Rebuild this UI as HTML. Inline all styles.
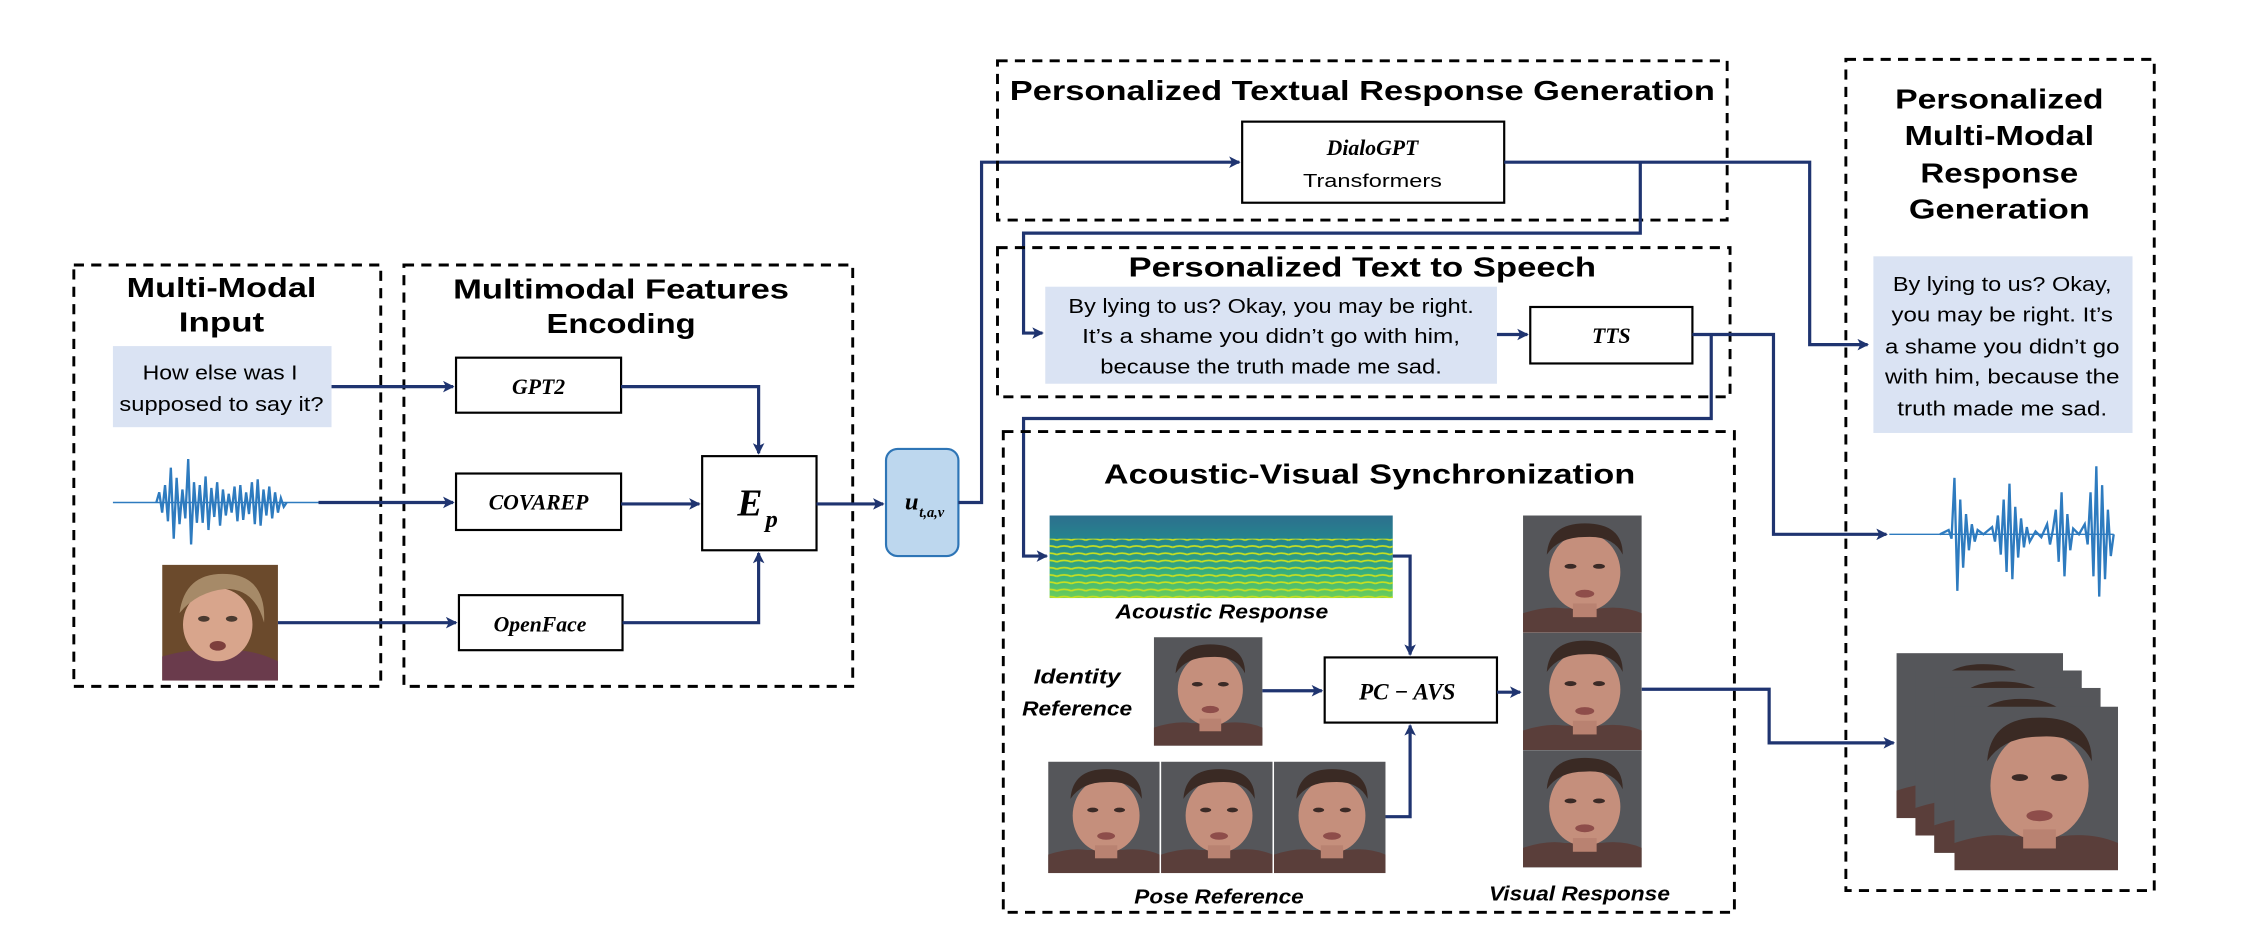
<!DOCTYPE html>
<html><head><meta charset="utf-8"><style>
html,body{margin:0;padding:0;background:#fff;}
svg{display:block;}
.t{font-family:"Liberation Sans",sans-serif;font-weight:bold;fill:#000;}
.b{font-family:"Liberation Sans",sans-serif;fill:#000;}
.i{font-family:"Liberation Serif",serif;font-style:italic;font-weight:bold;fill:#000;}
.dash{fill:none;stroke:#000;stroke-width:2;stroke-dasharray:7,5;}
.box{fill:#fff;stroke:#000;stroke-width:1.5;}
.ln{fill:none;stroke:#1f3470;stroke-width:2.2;}
.bub{fill:#dae3f3;}
</style></head><body>
<svg width="2244" height="934" viewBox="0 0 1550 645" preserveAspectRatio="none" xmlns="http://www.w3.org/2000/svg">
<defs>
<marker id="ar" markerWidth="8" markerHeight="8" refX="7" refY="4" orient="auto" markerUnits="userSpaceOnUse">
<path d="M0,0 L8,4 L0,8 L2,4 z" fill="#1f3470"/></marker>
<symbol id="face" viewBox="0 0 100 120" preserveAspectRatio="none">
<rect width="100" height="120" fill="#55565a"/>
<path d="M0,120 L0,100 Q20,92 35,95 L65,95 Q85,92 100,100 L100,120z" fill="#5a3e3a"/>
<ellipse cx="52" cy="58" rx="30" ry="40" fill="#c58f7c"/>
<rect x="42" y="90" width="20" height="14" fill="#b98271"/>
<path d="M20,40 Q22,8 52,8 Q84,8 84,40 Q76,20 52,22 Q30,22 20,40z" fill="#3a2a24"/>
<ellipse cx="40" cy="52" rx="5" ry="2.5" fill="#3b2a26"/>
<ellipse cx="64" cy="52" rx="5" ry="2.5" fill="#3b2a26"/>
<ellipse cx="52" cy="80" rx="8" ry="4" fill="#8e4d4a"/>
</symbol>
<symbol id="face2" viewBox="0 0 100 120" preserveAspectRatio="none">
<rect width="100" height="120" fill="#6b4a2c"/>
<path d="M0,120 L0,95 Q30,85 50,90 Q75,85 100,100 L100,120z" fill="#6a3b4c"/>
<ellipse cx="48" cy="62" rx="30" ry="38" fill="#d8a58c"/>
<path d="M15,50 Q20,5 60,10 Q90,15 88,60 Q80,25 55,25 Q30,28 15,50z" fill="#a68a68"/>
<ellipse cx="36" cy="56" rx="5" ry="3" fill="#4a3a30"/>
<ellipse cx="60" cy="56" rx="5" ry="3" fill="#4a3a30"/>
<ellipse cx="48" cy="84" rx="7" ry="5" fill="#7d3f3c"/>
</symbol>
<linearGradient id="sg" x1="0" y1="0" x2="0" y2="1">
<stop offset="0" stop-color="#2d6f8e"/><stop offset="0.35" stop-color="#23898e"/>
<stop offset="0.75" stop-color="#3bb57a"/><stop offset="1" stop-color="#6ece58"/></linearGradient>
<pattern id="sp" width="10" height="5" patternUnits="userSpaceOnUse">
<path d="M0,3 Q5,1 10,3" stroke="#c8e020" stroke-width="1.2" fill="none"/></pattern>
</defs>

<!-- Multi-modal input -->
<rect class="dash" x="51" y="183" width="212" height="291"/>
<text class="t" x="153" y="205" font-size="19" text-anchor="middle" textLength="131" lengthAdjust="spacingAndGlyphs">Multi-Modal</text>
<text class="t" x="153" y="229" font-size="19" text-anchor="middle" textLength="59" lengthAdjust="spacingAndGlyphs">Input</text>
<rect class="bub" x="78" y="239" width="151" height="56"/>
<text class="b" x="152" y="262" font-size="14" text-anchor="middle" textLength="107" lengthAdjust="spacingAndGlyphs">How else was I</text>
<text class="b" x="153" y="284" font-size="14" text-anchor="middle" textLength="141" lengthAdjust="spacingAndGlyphs">supposed to say it?</text>
<line x1="78" y1="347" x2="220" y2="347" stroke="#2e7bbf" stroke-width="1"/>
<polyline fill="none" stroke="#2e7bbf" stroke-width="1.6" points="108,347 110,340 112,354 114,335 116,360 118,323 120,372 122,330 124,362 126,338 128,358 130,317 132,376 134,333 136,361 138,335 140,361 142,329 144,366 146,337 148,357 150,333 152,363 154,338 156,356 158,341 160,354 162,336 164,360 166,335 168,359 170,340 172,355 174,333 176,362 178,331 180,363 182,338 184,356 186,336 188,358 190,340 192,354 194,344 196,350 198,347"/>
<use href="#face2" x="112" y="390" width="80" height="80"/>

<!-- Encoding -->
<rect class="dash" x="279" y="183" width="310" height="291"/>
<text class="t" x="429" y="206" font-size="19" text-anchor="middle" textLength="232" lengthAdjust="spacingAndGlyphs">Multimodal Features</text>
<text class="t" x="429" y="230" font-size="19" text-anchor="middle" textLength="103" lengthAdjust="spacingAndGlyphs">Encoding</text>
<rect class="box" x="315" y="247" width="114" height="38"/>
<text class="i" x="372" y="272" font-size="15" text-anchor="middle">GPT2</text>
<rect class="box" x="315" y="327" width="114" height="39"/>
<text class="i" x="372" y="352" font-size="15" text-anchor="middle">COVAREP</text>
<rect class="box" x="317" y="411" width="113" height="38"/>
<text class="i" x="373" y="436" font-size="15" text-anchor="middle">OpenFace</text>
<rect class="box" x="485" y="315" width="79" height="65"/>
<text class="i" x="518" y="356" font-size="26" text-anchor="middle">E</text>
<text class="i" x="533" y="364" font-size="17" text-anchor="middle">p</text>
<rect x="612" y="310" width="50" height="74" rx="8" fill="#bdd7ee" stroke="#2e75b6" stroke-width="1.5"/>
<text class="i" x="625" y="352" font-size="17">u</text>
<text class="i" x="635" y="357" font-size="10">t,a,v</text>

<path class="ln" d="M229,267 L313,267" marker-end="url(#ar)"/>
<path class="ln" d="M220,347 L313,347" marker-end="url(#ar)"/>
<path class="ln" d="M192,430 L315,430" marker-end="url(#ar)"/>
<path class="ln" d="M429,267 L524,267 L524,313" marker-end="url(#ar)"/>
<path class="ln" d="M429,348 L483,348" marker-end="url(#ar)"/>
<path class="ln" d="M430,430 L524,430 L524,382" marker-end="url(#ar)"/>
<path class="ln" d="M564,348 L610,348" marker-end="url(#ar)"/>
<path class="ln" d="M662,347 L678,347 L678,112 L856,112" marker-end="url(#ar)"/>

<!-- Textual response generation -->
<rect class="dash" x="689" y="42" width="504" height="110"/>
<text class="t" x="941" y="69" font-size="19" text-anchor="middle" textLength="487" lengthAdjust="spacingAndGlyphs">Personalized Textual Response Generation</text>
<rect class="box" x="858" y="84" width="181" height="56"/>
<text class="i" x="948" y="107" font-size="15" text-anchor="middle">DialoGPT</text>
<text class="b" x="948" y="129" font-size="13" text-anchor="middle" textLength="96" lengthAdjust="spacingAndGlyphs">Transformers</text>
<path class="ln" d="M1039,112 L1250,112 L1250,238 L1290,238" marker-end="url(#ar)"/>
<path class="ln" d="M1133,112 L1133,161 L707,161 L707,230 L720,230" marker-end="url(#ar)"/>

<!-- TTS -->
<rect class="dash" x="689" y="171" width="506" height="103"/>
<text class="t" x="941" y="191" font-size="19" text-anchor="middle" textLength="323" lengthAdjust="spacingAndGlyphs">Personalized Text to Speech</text>
<rect class="bub" x="722" y="198" width="312" height="67"/>
<text class="b" x="878" y="216" font-size="14" text-anchor="middle" textLength="280" lengthAdjust="spacingAndGlyphs">By lying to us? Okay, you may be right.</text>
<text class="b" x="878" y="237" font-size="14" text-anchor="middle" textLength="261" lengthAdjust="spacingAndGlyphs">It’s a shame you didn’t go with him,</text>
<text class="b" x="878" y="258" font-size="14" text-anchor="middle" textLength="236" lengthAdjust="spacingAndGlyphs">because the truth made me sad.</text>
<rect class="box" x="1057" y="212" width="112" height="39"/>
<text class="i" x="1113" y="237" font-size="15" text-anchor="middle">TTS</text>
<path class="ln" d="M1034,231 L1055,231" marker-end="url(#ar)"/>
<path class="ln" d="M1169,231 L1225,231 L1225,369 L1303,369" marker-end="url(#ar)"/>
<path class="ln" d="M1182,231 L1182,289 L707,289 L707,384 L723,384" marker-end="url(#ar)"/>

<!-- AVS -->
<rect class="dash" x="693" y="298" width="505" height="332"/>
<text class="t" x="946" y="334" font-size="19" text-anchor="middle" textLength="367" lengthAdjust="spacingAndGlyphs">Acoustic-Visual Synchronization</text>
<rect x="725" y="356" width="237" height="57" fill="url(#sg)"/>
<rect x="725" y="372" width="237" height="41" fill="url(#sp)"/>
<text class="b" x="844" y="427" font-size="14" font-style="italic" font-weight="bold" text-anchor="middle" textLength="147" lengthAdjust="spacingAndGlyphs">Acoustic  Response</text>
<path class="ln" d="M962,384 L974,384 L974,452" marker-end="url(#ar)"/>
<text class="b" x="744" y="472" font-size="14" font-style="italic" font-weight="bold" text-anchor="middle" textLength="60" lengthAdjust="spacingAndGlyphs">Identity</text>
<text class="b" x="744" y="494" font-size="14" font-style="italic" font-weight="bold" text-anchor="middle" textLength="76" lengthAdjust="spacingAndGlyphs">Reference</text>
<use href="#face" x="797" y="440" width="75" height="75"/>
<rect class="box" x="915" y="454" width="119" height="45"/>
<text class="i" x="972" y="483" font-size="16" text-anchor="middle">PC − AVS</text>
<path class="ln" d="M872,477 L913,477" marker-end="url(#ar)"/>
<use href="#face" x="724" y="526" width="77" height="77"/>
<use href="#face" x="802" y="526" width="77" height="77"/>
<use href="#face" x="880" y="526" width="77" height="77"/>
<path class="ln" d="M957,564 L974,564 L974,501" marker-end="url(#ar)"/>
<text class="b" x="842" y="624" font-size="14" font-style="italic" font-weight="bold" text-anchor="middle" textLength="117" lengthAdjust="spacingAndGlyphs">Pose Reference</text>
<use href="#face" x="1052" y="356" width="82" height="81"/>
<use href="#face" x="1052" y="437" width="82" height="81"/>
<use href="#face" x="1052" y="518" width="82" height="81"/>
<path class="ln" d="M1034,478 L1050,478" marker-end="url(#ar)"/>
<text class="b" x="1091" y="622" font-size="14" font-style="italic" font-weight="bold" text-anchor="middle" textLength="125" lengthAdjust="spacingAndGlyphs">Visual Response</text>
<path class="ln" d="M1134,476 L1222,476 L1222,513 L1308,513" marker-end="url(#ar)"/>

<!-- Right output -->
<rect class="dash" x="1275" y="41" width="213" height="574"/>
<text class="t" x="1381" y="75" font-size="19" text-anchor="middle" textLength="144" lengthAdjust="spacingAndGlyphs">Personalized</text>
<text class="t" x="1381" y="100" font-size="19" text-anchor="middle" textLength="131" lengthAdjust="spacingAndGlyphs">Multi-Modal</text>
<text class="t" x="1381" y="126" font-size="19" text-anchor="middle" textLength="109" lengthAdjust="spacingAndGlyphs">Response</text>
<text class="t" x="1381" y="151" font-size="19" text-anchor="middle" textLength="125" lengthAdjust="spacingAndGlyphs">Generation</text>
<rect class="bub" x="1294" y="177" width="179" height="122"/>
<text class="b" x="1383" y="201" font-size="14" text-anchor="middle" textLength="151" lengthAdjust="spacingAndGlyphs">By lying to us? Okay,</text>
<text class="b" x="1383" y="222" font-size="14" text-anchor="middle" textLength="153" lengthAdjust="spacingAndGlyphs">you may be right. It’s</text>
<text class="b" x="1383" y="244" font-size="14" text-anchor="middle" textLength="162" lengthAdjust="spacingAndGlyphs">a shame you didn’t go</text>
<text class="b" x="1383" y="265" font-size="14" text-anchor="middle" textLength="162" lengthAdjust="spacingAndGlyphs">with him, because the</text>
<text class="b" x="1383" y="287" font-size="14" text-anchor="middle" textLength="145" lengthAdjust="spacingAndGlyphs">truth made me sad.</text>
<line x1="1305" y1="369" x2="1460" y2="369" stroke="#2e7bbf" stroke-width="1"/>
<polyline fill="none" stroke="#2e7bbf" stroke-width="1.6" points="1340,369 1346,366 1348,372 1350,330 1352,408 1354,345 1356,392 1358,355 1360,380 1362,362 1364,374 1366,366 1370,369 1376,364 1378,374 1380,356 1382,383 1384,345 1386,395 1388,334 1390,400 1392,350 1394,385 1396,358 1398,378 1400,364 1402,374 1406,367 1410,371 1414,362 1416,376 1418,366 1420,352 1422,388 1424,340 1426,398 1428,355 1430,380 1432,365 1436,369 1440,362 1442,376 1444,340 1446,398 1448,322 1450,412 1452,335 1454,400 1456,352 1458,384 1460,369"/>
<use href="#face" x="1310" y="451" width="115" height="114"/>
<use href="#face" x="1323" y="463" width="115" height="114"/>
<use href="#face" x="1336" y="475" width="115" height="114"/>
<use href="#face" x="1350" y="488" width="113" height="113"/>
</svg>
</body></html>
